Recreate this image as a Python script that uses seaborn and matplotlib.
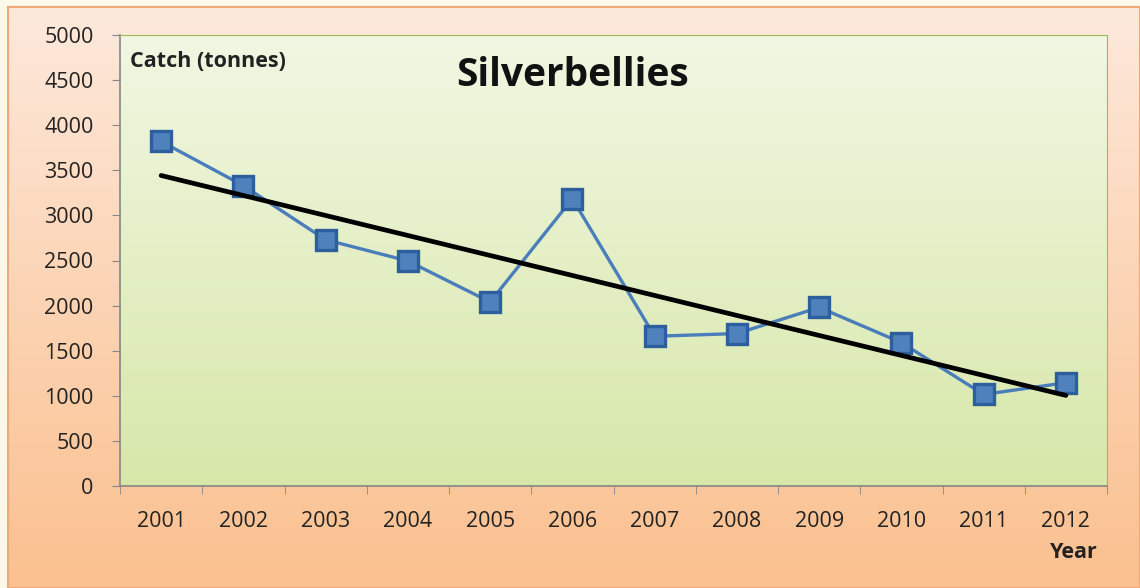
import numpy as np
import matplotlib
matplotlib.use('Agg')
import matplotlib.pyplot as plt
from matplotlib.colors import LinearSegmentedColormap
import seaborn as sns

years = [2001, 2002, 2003, 2004, 2005, 2006, 2007, 2008, 2009, 2010, 2011, 2012]
catch = [3820, 3330, 2730, 2495, 2040, 3185, 1660, 1690, 1980, 1590, 1015, 1145]
y_ticks = [0, 500, 1000, 1500, 2000, 2500, 3000, 3500, 4000, 4500, 5000]

sns.set_style('white')
plt.rcParams['font.family'] = ['Open Sans', 'DejaVu Sans']

fig = plt.figure(figsize=(11.4, 5.88), dpi=100)
fig.patch.set_facecolor('#fdf9ea')

# outer chart frame with peach -> orange gradient
bg = fig.add_axes([8 / 1140, 0, 1 - 8 / 1140, 1 - 7 / 588])
bg_cmap = LinearSegmentedColormap.from_list('bg', ['#fde9dc', '#fcd4b4', '#fac08f'])
bg.imshow(np.linspace(0, 1, 256).reshape(-1, 1), aspect='auto', cmap=bg_cmap,
          extent=[0, 1, 0, 1], origin='upper')
bg.set_xticks([])
bg.set_yticks([])
for s in bg.spines.values():
    s.set_color('#f0a878')
    s.set_linewidth(1.5)

ax = fig.add_axes([120 / 1140, 1 - 486 / 588, (1107 - 120) / 1140, (486 - 35) / 588])
pa_cmap = LinearSegmentedColormap.from_list('pa', ['#f1f7e2', '#e4efc6', '#d7e7a9'])
ax.imshow(np.linspace(0, 1, 256).reshape(-1, 1), aspect='auto', cmap=pa_cmap,
          extent=[0, 1, 0, 1], origin='upper', transform=ax.transAxes, zorder=0)

sns.lineplot(x=years, y=catch, ax=ax, color='#4a7ebb', linewidth=2.4,
             marker='s', markersize=14.5, markerfacecolor='#4f81bd',
             markeredgecolor='#2d5f9e', markeredgewidth=2.4, zorder=3)
sns.regplot(x=np.array(years), y=np.array(catch), ax=ax, scatter=False, ci=None,
            line_kws={'color': 'black', 'linewidth': 3.4, 'zorder': 4})

ax.set_xlim(2000.5, 2012.5)
ax.set_ylim(0, 5000)
ax.set_yticks(y_ticks)
ax.set_yticklabels([str(v) for v in y_ticks], fontsize=15.5, color='#222222')
ax.set_xticks(years)
ax.set_xticklabels([str(y) for y in years], fontsize=15.5, color='#222222')
ax.set_xticks(np.arange(2000.5, 2013, 1), minor=True)
ax.tick_params(axis='x', which='major', length=0, pad=18)
ax.tick_params(axis='x', which='minor', length=6, color='#868686', direction='out', bottom=True)
ax.tick_params(axis='y', length=6, color='#868686', direction='out', left=True, pad=13)
ax.set_xlabel('')
ax.set_ylabel('')

ax.spines['left'].set_color('#868686')
ax.spines['bottom'].set_color('#868686')
ax.spines['left'].set_linewidth(1.2)
ax.spines['bottom'].set_linewidth(1.2)
ax.spines['top'].set_color('#9bbb59')
ax.spines['right'].set_color('#9bbb59')

ax.text(0.01, 0.965, 'Catch (tonnes)', transform=ax.transAxes, fontsize=15.5,
        fontweight='bold', color='#222222', va='top', ha='left')
ax.text(0.459, 0.91, 'Silverbellies', transform=ax.transAxes, fontsize=28,
        fontweight='bold', color='#111111', va='center', ha='center')
fig.text(1098 / 1140, 1 - 552 / 588, 'Year', fontsize=15.5, fontweight='bold',
         color='#222222', ha='right', va='center')

fig.savefig('out.png', dpi=100, facecolor=fig.get_facecolor())
